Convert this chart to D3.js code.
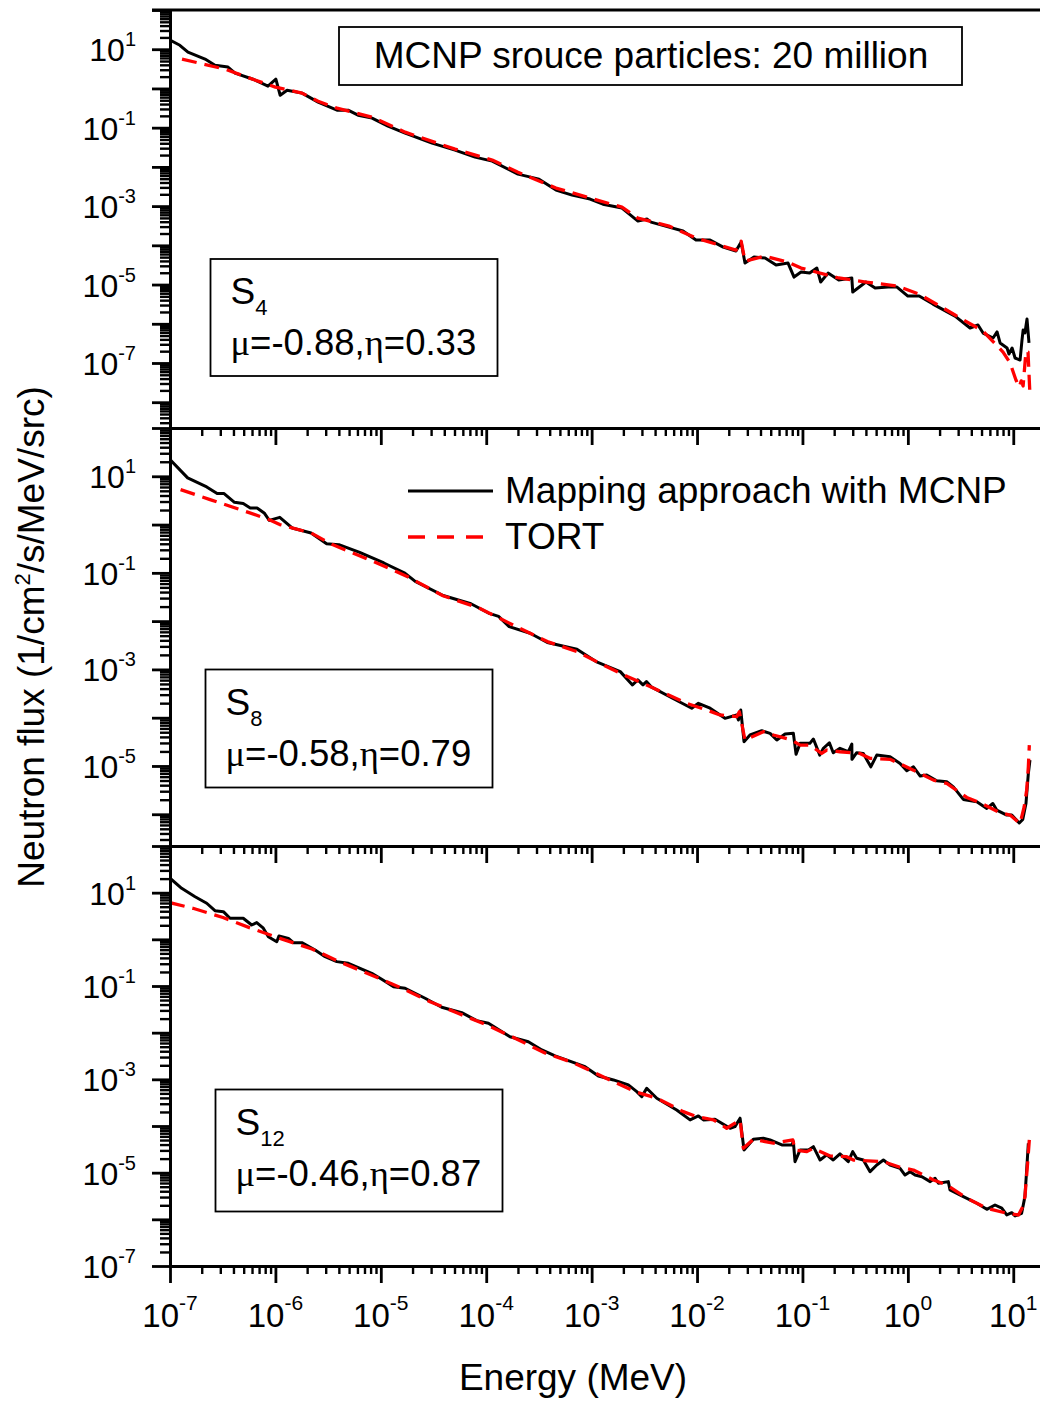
<!DOCTYPE html>
<html>
<head>
<meta charset="utf-8">
<script src="https://cdn.jsdelivr.net/npm/d3@7"></script>
<style>
  body { margin: 0; background: #fff; }
  svg { display: block; }
  text { font-family: "Liberation Sans", Arial, sans-serif; fill: #000; }
</style>
</head>
<body>
<svg id="chart" width="1040" height="1403"></svg>
<script>
// Neutron flux spectra, [energy (MeV), flux (1/cm^2/s/MeV/src)]

// S4 direction: mu=-0.88, eta=0.33
const mcnpS4 = [
  [1.0e-7,17],[1.24e-7,12.6],[1.48e-7,8.4],[2.15e-7,5.6],[2.67e-7,3.9],[3.55e-7,3.5],[4.14e-7,2.45],
  [6.13e-7,1.72],[8.5e-7,1.14],[1.01e-6,1.72],[1.11e-6,0.67],[1.29e-6,0.90],[1.79e-6,0.76],[2.54e-6,0.447],
  [3.84e-6,0.279],[4.89e-6,0.279],[6.08e-6,0.208],[8.26e-6,0.175],[1.17e-5,0.109],[1.70e-5,0.0724],
  [3.06e-5,0.0403],[5.06e-5,0.0267],[7.83e-5,0.0177],[1.14e-4,0.0140],[2.0e-4,6.53e-3],[3.17e-4,4.87e-3],
  [4.59e-4,2.56e-3],[6.52e-4,1.91e-3],[9.66e-4,1.51e-3],[1.28e-3,1.12e-3],[1.94e-3,8.9e-4],[2.75e-3,4.15e-4],
  [3.36e-3,4.67e-4],[3.66e-3,3.91e-4],[5.42e-3,2.92e-4],[7.36e-3,2.31e-4],[9.77e-3,1.36e-4],[1.33e-2,1.36e-4],
  [1.77e-2,9.0e-5],[2.34e-2,7.14e-5],[2.62e-2,1.21e-4],[2.85e-2,3.53e-5],[3.47e-2,5.02e-5],[4.42e-2,4.73e-5],
  [5.62e-2,3.14e-5],[7.3e-2,3.53e-5],[8.32e-2,1.55e-5],[9.7e-2,2.08e-5],[0.117,1.96e-5],[0.137,2.63e-5],
  [0.149,1.16e-5],[0.175,1.96e-5],[0.221,1.30e-5],[0.294,1.47e-5],[0.30,6.44e-6],[0.40,1.16e-5],
  [0.489,8.15e-6],[0.649,8.63e-6],[0.789,8.63e-6],[1.0,5.09e-6],[1.28,5.09e-6],[1.73,3.18e-6],[2.80,1.57e-6],
  [3.89,7.8e-7],[4.63,9.3e-7],[5.17,5.8e-7],[6.43,4.34e-7],[7.02,6.2e-7],[7.5,3.24e-7],[8.73,2.41e-7],
  [9.1,1.69e-7],[9.75,2.41e-7],[10.4,1.34e-7],[11.6,1.19e-7],[12.1,3.85e-7],[12.4,6.9e-7],[12.9,5.8e-7],
  [13.5,1.32e-6],[14.1,3.24e-7]
];
const tortS4 = [
  [1.30e-7,5.6],[3.33e-7,3.1],[6.1e-7,1.72],[1.0e-6,1.08],[1.79e-6,0.76],[2.54e-6,0.47],[3.84e-6,0.314],
  [8.26e-6,0.185],[1.70e-5,0.0768],[5.06e-5,0.0283],[1.14e-4,0.0149],[2.0e-4,7.3e-3],[4.59e-4,2.88e-3],
  [9.66e-4,1.6e-3],[1.94e-3,9.4e-4],[2.75e-3,4.94e-4],[5.42e-3,3.09e-4],[9.77e-3,1.53e-4],[2.34e-2,7.57e-5],
  [2.62e-2,1.28e-4],[2.85e-2,3.97e-5],[4.42e-2,5.3e-5],[7.3e-2,3.74e-5],[9.7e-2,2.63e-5],[0.221,1.47e-5],
  [0.40,1.16e-5],[0.789,9.2e-6],[1.28,5.7e-6],[2.80,1.67e-6],[5.17,6.5e-7],[8.0,1.9e-7],[9.33,1.0e-7],
  [10.6,3.7e-8],[11.4,2.45e-8],[11.9,3.5e-8],[12.4,2.6e-8],[13.2,2.0e-7],[13.8,1.9e-7],[14.4,1.53e-8]
];

// S8 direction: mu=-0.58, eta=0.79
const mcnpS8 = [
  [1.0e-7,22.2],[1.47e-7,9.27],[2.23e-7,6.03],[2.80e-7,4.38],[3.26e-7,4.38],[4.09e-7,2.89],[4.95e-7,2.72],
  [5.77e-7,2.21],[6.70e-7,2.21],[7.82e-7,1.74],[8.75e-7,1.22],[1.10e-6,1.41],[1.44e-6,0.85],[2.18e-6,0.67],
  [3.06e-6,0.402],[4.0e-6,0.383],[6.3e-6,0.265],[1.07e-5,0.160],[1.69e-5,0.099],[2.12e-5,0.0664],
  [3.90e-5,0.034],[7.16e-5,0.0229],[1.05e-4,0.0147],[1.31e-4,0.0125],[1.65e-4,7.7e-3],[2.61e-4,5.6e-3],
  [3.80e-4,3.6e-3],[7.25e-4,2.62e-3],[1.10e-3,1.45e-3],[1.87e-3,9.0e-4],[2.44e-3,4.77e-4],[2.74e-3,6.05e-4],
  [3.07e-3,4.77e-4],[3.31e-3,5.58e-4],[3.71e-3,4.28e-4],[5.86e-3,2.53e-4],[8.9e-3,1.57e-4],[1.03e-2,1.99e-4],
  [1.33e-2,1.57e-4],[1.84e-2,9.7e-5],[2.38e-2,1.14e-4],[2.47e-2,8.95e-5],[2.60e-2,1.44e-4],[2.79e-2,3.18e-5],
  [3.18e-2,4.38e-5],[4.11e-2,5.37e-5],[4.93e-2,4.74e-5],[5.71e-2,3.44e-5],[6.84e-2,4.59e-5],[8.2e-2,4.74e-5],
  [8.7e-2,1.74e-5],[9.5e-2,2.94e-5],[0.1175,2.94e-5],[0.127,3.61e-5],[0.146,1.68e-5],[0.158,2.32e-5],
  [0.180,3.03e-5],[0.196,1.88e-5],[0.227,2.32e-5],[0.272,1.97e-5],[0.294,2.85e-5],[0.295,1.37e-5],
  [0.327,1.88e-5],[0.378,1.82e-5],[0.445,9.6e-6],[0.507,1.68e-5],[0.678,1.55e-5],[0.843,1.13e-5],
  [0.977,7.94e-6],[1.13,9.6e-6],[1.31,6.17e-6],[1.51,6.47e-6],[1.88,4.93e-6],[2.34,4.70e-6],[2.70,3.70e-6],
  [3.36,2.03e-6],[4.51,1.81e-6],[5.61,1.32e-6],[6.40,1.67e-6],[6.97,1.22e-6],[8.67,9.6e-7],[9.68,9.6e-7],
  [11.4,6.6e-7],[12.3,7.8e-7],[13.2,1.67e-6],[13.9,7.0e-6],[14.4,1.32e-5]
];
const tortS8 = [
  [1.26e-7,5.3],[2.40e-7,3.29],[5.54e-7,1.79],[8.75e-7,1.26],[1.10e-6,1.0],[2.18e-6,0.67],[3.43e-6,0.39],
  [8.53e-6,0.172],[1.82e-5,0.082],[3.89e-5,0.0335],[8.3e-5,0.0192],[1.78e-4,8.4e-3],[3.80e-4,3.77e-3],
  [7.25e-4,2.34e-3],[1.19e-3,1.35e-3],[2.18e-3,7.1e-4],[3.71e-3,4.28e-4],[7.93e-3,1.99e-4],[1.24e-2,1.44e-4],
  [1.65e-2,1.14e-4],[2.38e-2,1.05e-4],[2.52e-2,1.33e-4],[2.85e-2,3.44e-5],[4.25e-2,5.13e-5],[5.3e-2,4.38e-5],
  [7.91e-2,3.44e-5],[9.5e-2,2.71e-5],[0.1175,2.71e-5],[0.152,1.82e-5],[0.170,2.14e-5],[0.226,1.97e-5],
  [0.351,1.82e-5],[0.436,1.44e-5],[0.678,1.37e-5],[1.13,8.2e-6],[1.75,5.09e-6],[2.34,4.35e-6],[3.62,2.23e-6],
  [4.84,1.73e-6],[7.5,1.07e-6],[9.33,9.6e-7],[11.6,6.4e-7],[12.7,1.43e-6],[13.4,3.16e-6],[13.9,9.6e-6],
  [14.2,2.71e-5]
];

// S12 direction: mu=-0.46, eta=0.87
const mcnpS12 = [
  [1.0e-7,20.4],[1.29e-7,12.4],[1.73e-7,8.2],[2.23e-7,5.93],[2.67e-7,4.11],[3.21e-7,3.92],[3.71e-7,2.83],
  [4.95e-7,2.83],[5.96e-7,2.03],[6.65e-7,2.28],[7.68e-7,1.73],[8.57e-7,1.14],[1.03e-6,0.89],[1.08e-6,1.18],
  [1.33e-6,1.05],[1.48e-6,0.85],[1.78e-6,0.85],[2.38e-6,0.59],[2.96e-6,0.425],[3.82e-6,0.333],[4.92e-6,0.307],
  [8.2e-6,0.187],[1.02e-5,0.139],[1.32e-5,0.0968],[1.70e-5,0.0895],[2.63e-5,0.0546],[3.78e-5,0.035],
  [5.86e-5,0.0268],[8.13e-5,0.0181],[1.05e-4,0.0159],[1.68e-4,8.2e-3],[2.51e-4,6.4e-3],[3.37e-4,4.26e-3],
  [4.5e-4,3.17e-3],[8.66e-4,1.87e-3],[1.16e-3,1.18e-3],[1.61e-3,9.7e-4],[2.23e-3,7.59e-4],[2.68e-3,5.45e-4],
  [2.99e-3,4.26e-4],[3.33e-3,6.44e-4],[4.15e-3,3.94e-4],[6.41e-3,2.21e-4],[8.59e-3,1.35e-4],[1.03e-2,1.64e-4],
  [1.15e-2,1.35e-4],[1.48e-2,1.40e-4],[2.06e-2,8.95e-5],[2.29e-2,9.7e-5],[2.56e-2,1.47e-4],[2.79e-2,3.07e-5],
  [3.42e-2,5.2e-5],[4.25e-2,5.47e-5],[4.93e-2,5.03e-5],[6.37e-2,3.93e-5],[7.92e-2,3.93e-5],[8.2e-2,4.62e-5],
  [8.5e-2,1.72e-5],[9.5e-2,3.07e-5],[0.114,3.07e-5],[0.127,3.61e-5],[0.147,1.87e-5],[0.170,2.40e-5],
  [0.196,1.87e-5],[0.227,2.52e-5],[0.272,1.72e-5],[0.30,2.82e-5],[0.327,2.04e-5],[0.378,1.87e-5],
  [0.438,1.05e-5],[0.507,1.46e-5],[0.586,1.87e-5],[0.678,1.46e-5],[0.843,1.24e-5],[0.94,8.9e-6],
  [1.05,1.05e-5],[1.17,8.9e-6],[1.36,8.2e-6],[1.63,6.43e-6],[1.81,7.6e-6],[1.95,5.93e-6],[2.42,6.43e-6],
  [2.51,4.27e-6],[3.36,3.06e-6],[4.51,2.21e-6],[5.61,1.64e-6],[6.71,2.03e-6],[7.78,1.73e-6],[8.67,1.24e-6],
  [9.68,1.39e-6],[10.4,1.18e-6],[12.0,1.35e-6],[12.9,3.06e-6],[13.4,1.14e-5],[13.9,4.27e-5]
];
const tortS12 = [
  [1.0e-7,6.1],[1.65e-7,4.63],[3.18e-7,2.94],[5.86e-7,1.73],[1.16e-6,1.01],[2.22e-6,0.622],[4.1e-6,0.327],
  [7.9e-6,0.177],[1.59e-5,0.0895],[2.93e-5,0.0462],[5.4e-5,0.0261],[1.04e-4,0.01426],[1.96e-4,7.26e-3],
  [3.61e-4,3.67e-3],[6.81e-4,2.24e-3],[1.28e-3,1.14e-3],[2.58e-3,5.45e-4],[4.15e-3,3.94e-4],[7.41e-3,2.03e-4],
  [9.93e-3,1.58e-4],[1.43e-2,1.35e-4],[1.91e-2,8.95e-5],[2.56e-2,1.35e-4],[2.75e-2,3.33e-5],[3.42e-2,5.2e-5],
  [5.3e-2,4.27e-5],[8.1e-2,5.03e-5],[8.5e-2,3.07e-5],[0.11,2.82e-5],[0.127,3.33e-5],[0.183,2.28e-5],
  [0.263,2.2e-5],[0.304,1.87e-5],[0.586,1.72e-5],[0.843,1.31e-5],[1.13,1.14e-5],[1.75,6.98e-6],[2.34,5.45e-6],
  [3.62,2.83e-6],[5.61,1.73e-6],[8.67,1.35e-6],[11.2,1.24e-6],[12.3,1.87e-6],[12.9,3.06e-6],[13.6,1.35e-5],
  [14.2,5.03e-5]
];

// Axis settings
const energyDomain = [1e-7, 20];
const energyLabelExps = [-7, -6, -5, -4, -3, -2, -1, 0, 1];
const fluxDomains = [[2.2e-9, 100], [2.2e-7, 100], [1e-7, 100]];
const fluxLabelExps = [[1, -1, -3, -5, -7], [1, -1, -3, -5], [1, -1, -3, -5, -7]];
const orderLabels = ["4", "8", "12"];
const muValues = ["-0.88", "-0.58", "-0.46"];
const etaValues = ["0.33", "0.79", "0.87"];
const seriesNames = ["Mapping approach with MCNP", "TORT"];
const noteText = "MCNP srouce particles: 20 million";

const mcnpSets = [mcnpS4, mcnpS8, mcnpS12];
const tortSets = [tortS4, tortS8, tortS12];

// Layout
const X0 = 170, X1 = 1045;
const panelTops = [10, 428, 846];
const panelBottoms = [428, 846, 1266];
const boxes = [
  { x: 210.5, y: 259, w: 287, h: 117 },
  { x: 205.5, y: 669.5, w: 287, h: 118 },
  { x: 215.5, y: 1089.5, w: 287, h: 122 }
];

const svg = d3.select("#chart");
svg.append("rect").attr("width", 1040).attr("height", 1403).attr("fill", "#fff");

const x = d3.scaleLog().domain(energyDomain).range([X0, X1]);

function decade(k) { return parseFloat("1e" + k); }

function logTicks(domain) {
  const lo = Math.floor(Math.log10(domain[0])) - 1;
  const hi = Math.ceil(Math.log10(domain[1]));
  const major = [], minor = [];
  for (let k = lo; k <= hi; k++) {
    const b = decade(k);
    if (b >= domain[0] * 0.9999 && b <= domain[1] * 1.0001) major.push(b);
    for (let m = 2; m <= 9; m++) {
      const v = parseFloat(m + "e" + k);
      if (v >= domain[0] && v <= domain[1] * 1.0001) minor.push(v);
    }
  }
  return { major, minor };
}

function styleAxis(g, width) {
  g.select(".domain").attr("stroke", "#000").attr("stroke-width", 3);
  g.selectAll(".tick line").attr("stroke", "#000").attr("stroke-width", width);
}

function powerLabel(textSel, k, supSize, supDy) {
  textSel.append("tspan").text("10");
  textSel.append("tspan").attr("dy", supDy).attr("font-size", supSize).text(String(k));
}

const line = (ys) => d3.line().x(d => x(d[0])).y(d => ys(d[1]));
const xt = logTicks(energyDomain);

panelTops.forEach((top, i) => {
  const bottom = panelBottoms[i];
  const y = d3.scaleLog().domain(fluxDomains[i]).range([bottom, top]);
  const g = svg.append("g");

  // curves
  const clipId = "clip" + i;
  svg.append("clipPath").attr("id", clipId)
    .append("rect").attr("x", X0).attr("y", top).attr("width", X1 - X0).attr("height", bottom - top);
  const curves = g.append("g").attr("clip-path", `url(#${clipId})`);
  curves.append("path").datum(mcnpSets[i])
    .attr("d", line(y)).attr("fill", "none").attr("stroke", "#000")
    .attr("stroke-width", 3).attr("stroke-linejoin", "round");
  curves.append("path").datum(tortSets[i])
    .attr("d", line(y)).attr("fill", "none").attr("stroke", "#ff0000")
    .attr("stroke-width", 3.3).attr("stroke-dasharray", "15,8").attr("stroke-linejoin", "round");

  // y axis
  const yt = logTicks(fluxDomains[i]);
  const gyMinor = g.append("g").attr("transform", `translate(${X0},0)`)
    .call(d3.axisLeft(y).tickValues(yt.minor).tickSize(10).tickSizeOuter(0).tickFormat(""));
  styleAxis(gyMinor, 2.4);
  const gyMajor = g.append("g").attr("transform", `translate(${X0},0)`)
    .call(d3.axisLeft(y).tickValues(yt.major).tickSize(18).tickSizeOuter(0).tickFormat(""));
  styleAxis(gyMajor, 2.8);
  fluxLabelExps[i].forEach(k => {
    const t = g.append("text").attr("x", X0 - 34).attr("y", y(decade(k)) + 12)
      .attr("text-anchor", "end").attr("font-size", 32);
    powerLabel(t, k, 20, -15);
  });

  // x axis along the panel bottom
  const gxMinor = g.append("g").attr("transform", `translate(0,${bottom})`)
    .call(d3.axisBottom(x).tickValues(xt.minor).tickSize(8).tickSizeOuter(0).tickFormat(""));
  styleAxis(gxMinor, 2.4);
  const gxMajor = g.append("g").attr("transform", `translate(0,${bottom})`)
    .call(d3.axisBottom(x).tickValues(xt.major).tickSize(17).tickSizeOuter(0).tickFormat(""));
  styleAxis(gxMajor, 2.8);

  // direction label box
  const b = boxes[i];
  g.append("rect").attr("x", b.x).attr("y", b.y).attr("width", b.w).attr("height", b.h)
    .attr("fill", "#fff").attr("stroke", "#000").attr("stroke-width", 1.8);
  const s = g.append("text").attr("x", b.x + 20).attr("y", b.y + 45).attr("font-size", 37);
  s.append("tspan").text("S");
  s.append("tspan").attr("dy", 11).attr("font-size", 22).text(orderLabels[i]);
  const m = g.append("text").attr("x", b.x + 20).attr("y", b.y + 96).attr("font-size", 36.5);
  m.append("tspan").attr("font-family", "Liberation Serif, serif").text("\u03bc");
  m.append("tspan").text("=" + muValues[i] + ",");
  m.append("tspan").attr("font-family", "Liberation Serif, serif").text("\u03b7");
  m.append("tspan").text("=" + etaValues[i]);
});

// top border of the upper panel
svg.append("line").attr("x1", X0 - 18).attr("x2", X1).attr("y1", panelTops[0]).attr("y2", panelTops[0])
  .attr("stroke", "#000").attr("stroke-width", 3);

// energy labels under the bottom panel
energyLabelExps.forEach(k => {
  const t = svg.append("text").attr("x", x(decade(k))).attr("y", 1327)
    .attr("text-anchor", "middle").attr("font-size", 33);
  powerLabel(t, k, 21, -17);
});

// axis titles
svg.append("text").attr("x", 573).attr("y", 1390).attr("text-anchor", "middle")
  .attr("font-size", 37).text("Energy (MeV)");
const yt = svg.append("text").attr("transform", "translate(44,637) rotate(-90)")
  .attr("text-anchor", "middle").attr("font-size", 37);
yt.append("tspan").text("Neutron flux (1/cm");
yt.append("tspan").attr("dy", -14).attr("font-size", 22).text("2");
yt.append("tspan").attr("dy", 14).text("/s/MeV/src)");

// note box
svg.append("rect").attr("x", 339).attr("y", 27).attr("width", 623).attr("height", 58)
  .attr("fill", "#fff").attr("stroke", "#000").attr("stroke-width", 1.8);
svg.append("text").attr("x", 651).attr("y", 68).attr("text-anchor", "middle")
  .attr("font-size", 37).text(noteText);

// legend
svg.append("line").attr("x1", 408).attr("x2", 493).attr("y1", 491).attr("y2", 491)
  .attr("stroke", "#000").attr("stroke-width", 3);
svg.append("line").attr("x1", 408).attr("x2", 483).attr("y1", 537).attr("y2", 537)
  .attr("stroke", "#ff0000").attr("stroke-width", 3.3).attr("stroke-dasharray", "17,12");
svg.append("text").attr("x", 505).attr("y", 503).attr("font-size", 37).text(seriesNames[0]);
svg.append("text").attr("x", 505).attr("y", 549).attr("font-size", 37).text(seriesNames[1]);
</script>
</body>
</html>
